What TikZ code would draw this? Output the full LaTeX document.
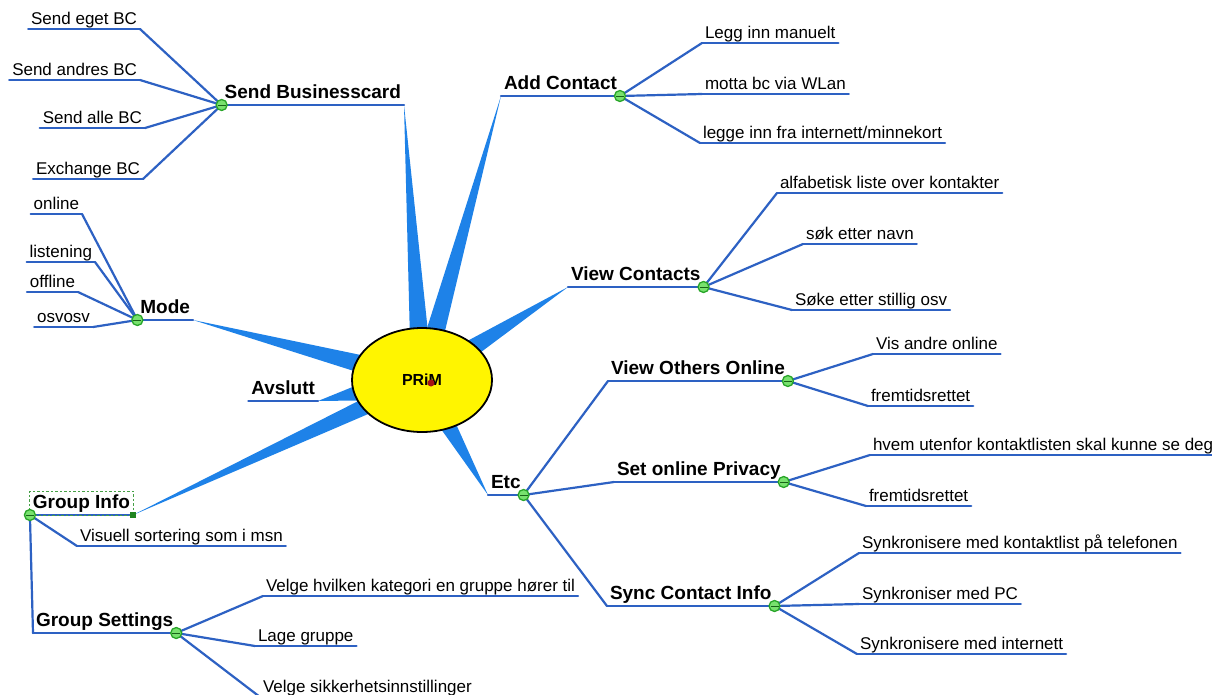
\documentclass[tikz,border=0pt]{standalone}
\usepackage{fontspec}
\setmainfont{Liberation Sans}
\usetikzlibrary{shapes.geometric,calc}
\definecolor{linkblue}{RGB}{45,97,195}
\definecolor{spokeblue}{RGB}{30,130,232}
\definecolor{knobgreen}{RGB}{40,165,40}
\definecolor{knobfill}{RGB}{120,225,110}
\definecolor{framegreen}{RGB}{70,160,70}
\definecolor{hubyellow}{RGB}{255,245,0}
\definecolor{markred}{RGB}{165,20,20}
\begin{document}
\begin{tikzpicture}[x=1pt,y=-1pt,
  leaf/.style={font=\fontsize{17}{17}\selectfont, inner xsep=3pt, inner ysep=0pt,
    text height=12pt, text depth=5pt, outer sep=0pt},
  topic/.style={font=\bfseries\fontsize{19}{19}\selectfont, inner xsep=3pt, inner ysep=0pt,
    text height=13.5pt, text depth=6.5pt, outer sep=0pt},
  link/.style={draw=linkblue, line width=2.2pt, line cap=round, line join=round},
  spoke/.style={fill=spokeblue},
  knob/.style={circle, draw=knobgreen, fill=knobfill, line width=1.3pt, minimum size=11pt, inner sep=0pt,
    path picture={\draw[knobgreen!60!black, line width=0.9pt]
      ([xshift=1.5pt]path picture bounding box.west) -- ([xshift=-1.5pt]path picture bounding box.east);}},
]
\useasboundingbox[fill=white] (0,0) rectangle (1212,694);
\coordinate (hub) at (422,380);

% ---- main topics ----
\node[topic, anchor=south east] (sb)   at (404,105) {Send Businesscard};
\node[topic, anchor=south west] (ac)   at (501,96)  {Add Contact};
\node[topic, anchor=south west] (vc)   at (568,287) {View Contacts};
\node[topic, anchor=south west] (etc)  at (488,495) {Etc};
\node[topic, anchor=south east] (mode) at (193,320) {Mode};
\node[topic, anchor=south east] (quit) at (318,401) {Avslutt};
\node[topic, anchor=south east] (gi)   at (133,515) {Group Info};

% ---- sub topics ----
\node[topic, anchor=south west] (voo) at (608,381) {View Others Online};
\node[topic, anchor=south west] (sop) at (614,482) {Set online Privacy};
\node[topic, anchor=south west] (sci) at (607,606) {Sync Contact Info};
\node[topic, anchor=south west] (gs)  at (33,633)  {Group Settings};

% ---- tapered spokes from the hub ----
\foreach \t/\w in {sb.south east/11pt, ac.south west/11pt, vc.south west/13pt,
                   etc.south west/13pt, mode.south east/12pt, quit.south east/20pt,
                   gi.south east/10pt}
  \fill[spoke] (\t) -- ($(hub)!\w!90:(\t)$) -- ($(hub)!\w!-90:(\t)$) -- cycle;

% ---- hub ----
\node[ellipse, draw=black, fill=hubyellow, line width=1.8pt,
      minimum width=140pt, minimum height=104pt, inner sep=0pt] (prim) at (hub) {};
\node[font=\bfseries\fontsize{16}{16}\selectfont] (primtext) at (hub) {PRiM};
\node[circle, fill=markred, minimum size=7pt, inner sep=0pt] (primmark) at (431,383) {};

% ---- knob points ----
\coordinate (sbk)   at (sb.south west);
\coordinate (ack)   at (ac.south east);
\coordinate (vck)   at (vc.south east);
\coordinate (etck)  at (etc.south east);
\coordinate (modek) at (mode.south west);
\coordinate (gik)   at (gi.south west);
\coordinate (vook)  at (voo.south east);
\coordinate (sopk)  at (sop.south east);
\coordinate (scik)  at (sci.south east);
\coordinate (gsk)   at (gs.south east);

% ---- leaves ----
\node[leaf, anchor=south east] (sb1) at (140,29)  {Send eget BC};
\node[leaf, anchor=south east] (sb2) at (140,80)  {Send andres BC};
\node[leaf, anchor=south east] (sb3) at (145,128) {Send alle BC};
\node[leaf, anchor=south east] (sb4) at (143,179) {Exchange BC};

\node[leaf, anchor=south west] (ac1) at (702,43)  {Legg inn manuelt};
\node[leaf, anchor=south west] (ac2) at (702,94)  {motta bc via WLan};
\node[leaf, anchor=south west] (ac3) at (700,143) {legge inn fra internett/minnekort};

\node[leaf, anchor=south west] (vc1) at (777,193) {alfabetisk liste over kontakter};
\node[leaf, anchor=south west] (vc2) at (803,244) {søk etter navn};
\node[leaf, anchor=south west] (vc3) at (792,310) {Søke etter stillig osv};

\node[leaf, anchor=south east] (md1) at (82,214)  {online};
\node[leaf, anchor=south east] (md2) at (95,262)  {listening};
\node[leaf, anchor=south east] (md3) at (78,292)  {offline};
\node[leaf, anchor=south east] (md4) at (93,327)  {osvosv};

\node[leaf, anchor=south west] (vo1) at (873,354) {Vis andre online};
\node[leaf, anchor=south west] (vo2) at (868,406) {fremtidsrettet};

\node[leaf, anchor=south west] (sp1) at (870,455) {hvem utenfor kontaktlisten skal kunne se deg};
\node[leaf, anchor=south west] (sp2) at (866,506) {fremtidsrettet};

\node[leaf, anchor=south west] (sc1) at (859,553) {Synkronisere med kontaktlist på telefonen};
\node[leaf, anchor=south west] (sc2) at (859,604) {Synkroniser med PC};
\node[leaf, anchor=south west] (sc3) at (857,654) {Synkronisere med internett};

\node[leaf, anchor=south west] (gi1) at (77,546)  {Visuell sortering som i msn};

\node[leaf, anchor=south west] (gs1) at (263,596) {Velge hvilken kategori en gruppe hører til};
\node[leaf, anchor=south west] (gs2) at (255,646) {Lage gruppe};
\node[leaf, anchor=south west] (gs3) at (260,697) {Velge sikkerhetsinnstillinger};

% ---- underlines ----
\foreach \n in {sb,ac,vc,etc,mode,quit,gi,voo,sop,sci,gs,
                sb1,sb2,sb3,sb4,ac1,ac2,ac3,vc1,vc2,vc3,md1,md2,md3,md4,
                vo1,vo2,sp1,sp2,sc1,sc2,sc3,gi1,gs1,gs2,gs3}
  \draw[link] (\n.south west) -- (\n.south east);

% ---- connectors ----
\foreach \n in {sb1,sb2,sb3,sb4} \draw[link] (sbk) -- (\n.south east);
\foreach \n in {md1,md2,md3,md4} \draw[link] (modek) -- (\n.south east);
\foreach \n in {ac1,ac2,ac3} \draw[link] (ack) -- (\n.south west);
\foreach \n in {vc1,vc2,vc3} \draw[link] (vck) -- (\n.south west);
\foreach \n in {voo,sop,sci} \draw[link] (etck) -- (\n.south west);
\foreach \n in {vo1,vo2} \draw[link] (vook) -- (\n.south west);
\foreach \n in {sp1,sp2} \draw[link] (sopk) -- (\n.south west);
\foreach \n in {sc1,sc2,sc3} \draw[link] (scik) -- (\n.south west);
\foreach \n in {gi1,gs} \draw[link] (gik) -- (\n.south west);
\foreach \n in {gs1,gs2,gs3} \draw[link] (gsk) -- (\n.south west);

% ---- selection frame on Group Info ----
\draw[draw=framegreen, line width=0.9pt, dash pattern=on 2.5pt off 2pt]
  (gi.south west) rectangle ([yshift=4pt]gi.north east);
\node[fill=knobgreen!80!black, minimum size=6pt, inner sep=0pt] (gisq) at (gi.south east) {};

% ---- knobs ----
\foreach \k in {sbk,ack,vck,etck,modek,gik,vook,sopk,scik,gsk}
  \node[knob] (\k-n) at (\k) {};
\end{tikzpicture}
\end{document}
